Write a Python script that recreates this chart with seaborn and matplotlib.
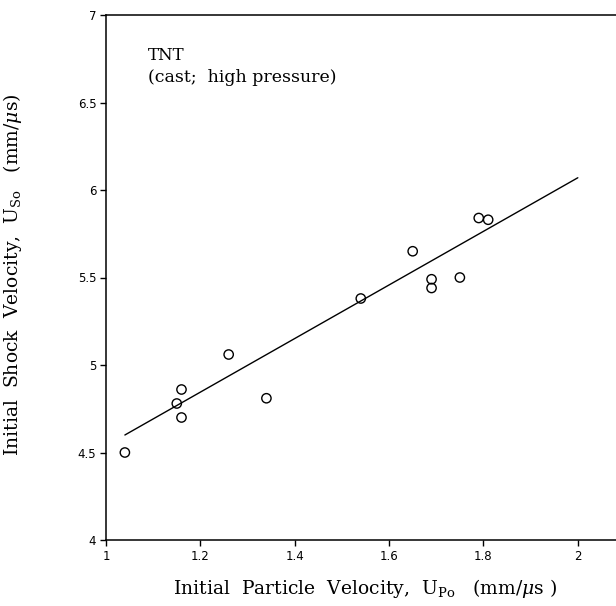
import matplotlib
matplotlib.use("Agg")
import matplotlib.pyplot as plt
import seaborn as sns
import pandas as pd

# Data
particle_velocity = [1.04, 1.15, 1.16, 1.16, 1.26, 1.34, 1.54, 1.65, 1.69, 1.69, 1.75, 1.79, 1.81]
shock_velocity = [4.50, 4.78, 4.86, 4.70, 5.06, 4.81, 5.38, 5.65, 5.49, 5.44, 5.50, 5.84, 5.83]
fit_x = [1.04, 2.00]
fit_y = [4.60, 6.07]
x_ticks = [1, 1.2, 1.4, 1.6, 1.8, 2]
x_tick_labels = ["1", "1.2", "1.4", "1.6", "1.8", "2"]
y_ticks = [4, 4.5, 5, 5.5, 6, 6.5, 7]
y_tick_labels = ["4", "4.5", "5", "5.5", "6", "6.5", "7"]

sns.set_theme(style="ticks")
plt.rcParams["mathtext.fontset"] = "dejavuserif"
plt.rcParams["text.color"] = "black"
plt.rcParams["axes.labelcolor"] = "black"
plt.rcParams["xtick.color"] = "black"
plt.rcParams["ytick.color"] = "black"

pts = pd.DataFrame({"u": particle_velocity, "U": shock_velocity})
fit = pd.DataFrame({"u": fit_x, "U": fit_y})

fig = plt.figure(figsize=(6.16, 6.06), dpi=100)
ax = fig.add_axes([106 / 616, 66 / 606, 519 / 616, 525 / 606])

sns.lineplot(data=fit, x="u", y="U", ax=ax, color="black", linewidth=1.0)
sns.scatterplot(data=pts, x="u", y="U", ax=ax, marker="o", s=45,
                facecolor="none", edgecolor="black", linewidth=1.0)

ax.set_xlim(1, 2.1)
ax.set_ylim(4, 7)
ax.set_xticks(x_ticks)
ax.set_xticklabels(x_tick_labels)
ax.set_yticks(y_ticks)
ax.set_yticklabels(y_tick_labels)
for lab in ax.get_xticklabels() + ax.get_yticklabels():
    lab.set_fontfamily("DejaVu Sans")
    lab.set_fontsize(8.5)
    lab.set_color("black")
ax.tick_params(direction="out", length=4, width=1, color="black", pad=3)

for s in ax.spines.values():
    s.set_color("black")
    s.set_linewidth(1.1)

serif = "DejaVu Serif"
ax.set_xlabel(r"Initial  Particle  Velocity,  U$_{\rm Po}$   (mm/$\mu$s )",
              fontfamily=serif, fontsize=13.5, color="black")
ax.set_ylabel(r"Initial  Shock  Velocity,  U$_{\rm So}$   (mm/$\mu$s)",
              fontfamily=serif, fontsize=13.5, color="black")
ax.xaxis.set_label_coords(0.5, -0.07)
ax.yaxis.set_label_coords(-0.158, 0.505)

ax.text(0.081, 0.94, "TNT", transform=ax.transAxes, fontfamily=serif,
        fontsize=12, va="top", ha="left", color="black")
ax.text(0.081, 0.898, "(cast;  high pressure)", transform=ax.transAxes,
        fontfamily=serif, fontsize=12.5, va="top", ha="left", color="black")

fig.savefig("out.png", dpi=100)
